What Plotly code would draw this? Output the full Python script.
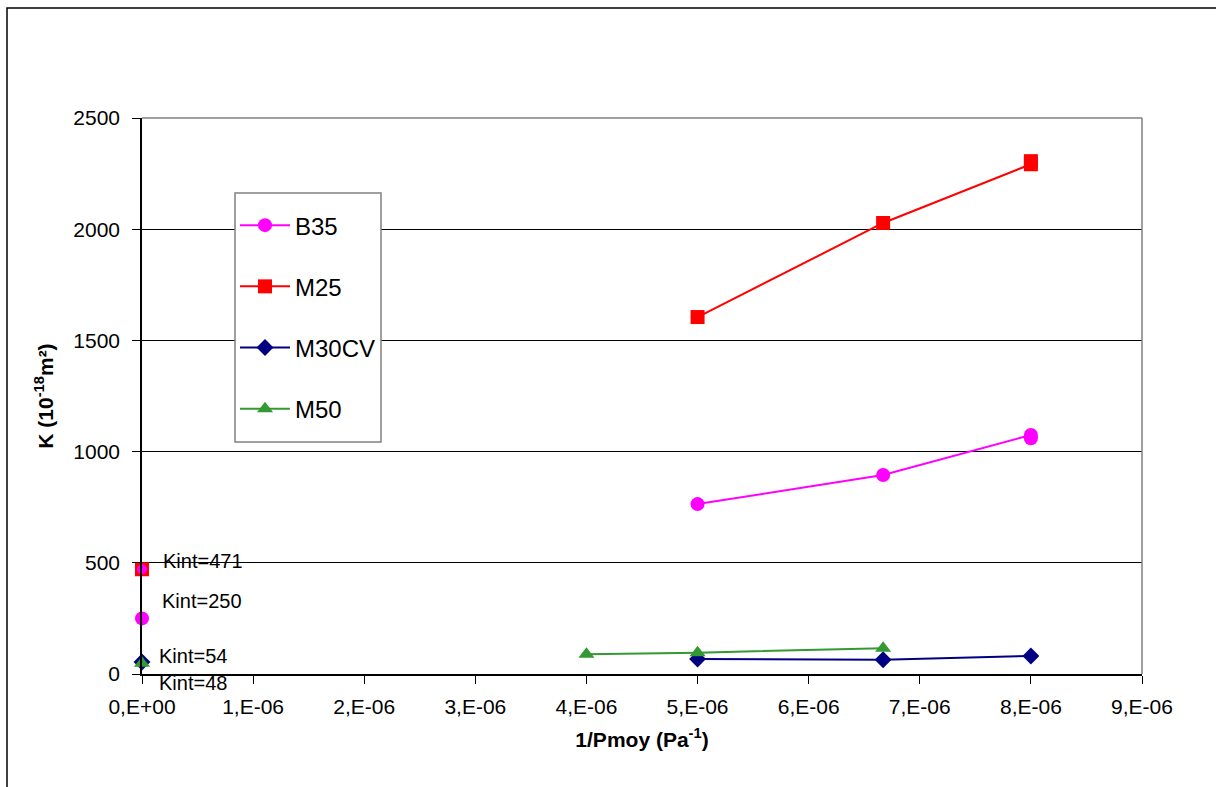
import plotly.graph_objects as go

# Permeability K versus inverse mean pressure (Klinkenberg plot)
x_b35 = [5.0e-6, 6.67e-6, 8.0e-6, 8.0e-6]
k_b35 = [764, 895, 1075, 1060]

x_m25 = [5.0e-6, 6.67e-6, 8.0e-6, 8.0e-6]
k_m25 = [1605, 2028, 2292, 2306]

x_m30cv = [5.0e-6, 6.67e-6, 8.0e-6]
k_m30cv = [67, 64, 81]

x_m50 = [4.0e-6, 5.0e-6, 6.67e-6]
k_m50 = [89, 96, 116]

# Intrinsic permeabilities (intercepts at 1/Pmoy = 0)
kint_m25 = 471
kint_b35 = 250
kint_m30cv = 54
kint_m50 = 48

x_ticks = [0, 1e-6, 2e-6, 3e-6, 4e-6, 5e-6, 6e-6, 7e-6, 8e-6, 9e-6]
x_tick_labels = ["0,E+00", "1,E-06", "2,E-06", "3,E-06", "4,E-06",
                 "5,E-06", "6,E-06", "7,E-06", "8,E-06", "9,E-06"]
y_ticks = [0, 500, 1000, 1500, 2000, 2500]

FONT = "Liberation Sans, Arial, sans-serif"
C_B35 = "#ff00ff"
C_M25 = "#ff0000"
C_M30 = "#000080"
C_M50 = "#339933"

fig = go.Figure()

series = [
    ("B35", x_b35, k_b35, C_B35, "circle", 14),
    ("M25", x_m25, k_m25, C_M25, "square", 14),
    ("M30CV", x_m30cv, k_m30cv, C_M30, "diamond", 13),
    ("M50", x_m50, k_m50, C_M50, "triangle-up", 14),
]
for name, xs, ys, col, sym, sz in series:
    fig.add_trace(go.Scatter(
        x=xs, y=ys, name=name, mode="lines+markers",
        line=dict(color=col, width=2),
        marker=dict(color=col, symbol=sym, size=sz),
        legendgroup=name, cliponaxis=False,
    ))

# Intercept points
intercepts = [
    (kint_m25, C_M25, "square", 14),
    (kint_m25, C_B35, "circle", 10),
    (kint_b35, C_B35, "circle", 14),
    (kint_m30cv, C_M30, "diamond", 13),
    (kint_m50, C_M50, "triangle-up", 14),
]
for val, col, sym, sz in intercepts:
    fig.add_trace(go.Scatter(
        x=[0], y=[val], mode="markers", showlegend=False,
        marker=dict(color=col, symbol=sym, size=sz),
        cliponaxis=False, hoverinfo="skip",
    ))

labels = [
    (kint_m25, 19, 8),
    (kint_b35, 18, 17),
    (kint_m30cv, 15, 6),
    (kint_m50, 15, -20),
]
for val, dx, dy in labels:
    fig.add_annotation(
        x=0, y=val, text=f"Kint={val}", showarrow=False,
        xanchor="left", yanchor="middle", xshift=dx, yshift=dy,
        font=dict(family=FONT, size=20, color="black"),
    )

# Outer chart frame
fig.add_shape(type="rect", xref="paper", yref="paper",
              x0=-0.135, x1=1.3, y0=-0.35, y1=1.198,
              line=dict(color="black", width=1.5), layer="below")

# Legend box
fig.add_shape(type="rect", xref="paper", yref="paper",
              x0=0.093, x1=0.239, y0=0.4173, y1=0.8651,
              line=dict(color="#808080", width=1.5), fillcolor="white",
              layer="above")

fig.update_layout(
    width=1216, height=787,
    margin=dict(l=142, r=74, t=118, b=113),
    paper_bgcolor="white", plot_bgcolor="white",
    font=dict(family=FONT, size=22, color="black"),
    showlegend=True,
    legend=dict(
        x=0.093, y=0.847, xanchor="left", yanchor="top",
        bgcolor="rgba(0,0,0,0)", borderwidth=0,
        font=dict(family=FONT, size=24, color="black"),
        tracegroupgap=27, itemwidth=50,
    ),
    xaxis=dict(
        range=[0, 9e-6], tickvals=x_ticks, ticktext=x_tick_labels,
        ticks="outside", ticklen=8, tickcolor="black",
        tickfont=dict(family=FONT, size=21), ticklabelstandoff=5,
        showline=True, linecolor="black", linewidth=1.5,
        showgrid=False, zeroline=False, mirror=False,
        title=dict(text="<b>1/Pmoy (Pa<sup>-1</sup>)</b>",
                   font=dict(family=FONT, size=21), standoff=15),
    ),
    yaxis=dict(
        range=[0, 2500], tickvals=y_ticks,
        ticks="outside", ticklen=8, tickcolor="black",
        tickfont=dict(family=FONT, size=21), ticklabelstandoff=8,
        showline=True, linecolor="black", linewidth=1.5,
        showgrid=True, gridcolor="black", gridwidth=1,
        zeroline=False,
        title=dict(text="<b>K (10<sup>-18</sup>m²)</b>",
                   font=dict(family=FONT, size=21), standoff=14),
    ),
)

# Plot area border on the right and top
fig.add_shape(type="line", xref="paper", yref="paper",
              x0=1, x1=1, y0=0, y1=1, line=dict(color="#808080", width=1.5))
fig.add_shape(type="line", xref="paper", yref="paper",
              x0=0, x1=1, y0=1, y1=1, line=dict(color="#808080", width=1.5))

fig.write_html("out.html")
